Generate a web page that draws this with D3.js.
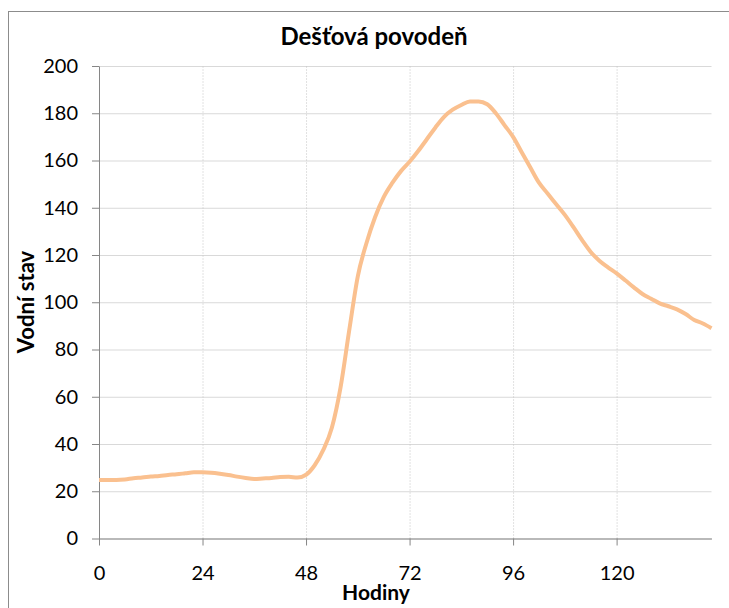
<!DOCTYPE html>
<html>
<head>
<meta charset="utf-8">
<script src="https://cdn.jsdelivr.net/npm/d3@7"></script>
<style>
body { margin:0; background:#fff; }
svg { display:block; font-family: Lato, "Open Sans", sans-serif; }
.grid line { stroke:#d9d9d9; }
.grid path { stroke:none; }
.vgrid line { stroke:#c4c4c4; stroke-dasharray:1,2; }
.vgrid path { stroke:none; }
.axis path, .axis line { stroke:#868686; }
.axis text { font-size:20px; fill:#000; font-family: Lato, sans-serif; }
</style>
</head>
<body>
<svg id="chart" width="729" height="608"></svg>
<script>
// hodiny (every 2 h) and water level
var hours = [0,2,4,6,8,10,12,14,16,18,20,22,24,26,28,30,32,34,36,38,40,42,44,46,48,
  50,52,54,56,58,60,62,64,66,68,70,72,74,76,78,80,82,84,86,88,90,92,94,96,98,
  100,102,104,106,108,110,112,114,116,118,120,122,124,126,128,130,132,134,136,138,140,142]
var level = [24.8,24.8,24.8,25,25.5,25.8,26.2,26.5,26.9,27.2,27.6,28,28,27.8,27.4,26.9,26.2,25.6,25.2,25.4,25.6,26,26.1,25.8,27,
  31,37.5,47,64,88,111,125,136,144.5,150.5,155.5,159.5,164,169,174,178.5,181.5,183.5,185,185,183.8,180,175,170,163.5,
  157,150.6,146,141.5,137,131.8,126.3,121.3,117.6,114.8,112.2,109.3,106.3,103.5,101.5,99.5,98.3,97,95,92.5,91,89]
var xTicks = [0,24,48,72,96,120]
var yTicks = [0,20,40,60,80,100,120,140,160,180,200]

function buildChart()
{
var svg = d3.select("#chart")

// outer chart frame
svg.append("rect")
  .attr("x", 8.5).attr("y", 11.5)
  .attr("width", 740).attr("height", 620)
  .attr("fill", "none").attr("stroke", "#8c8c8c")

var pLeft = 99, pRight = 711.5, pTop = 66, pBottom = 538.5

var xScale = d3.scaleLinear().domain([0, 142]).range([pLeft, pRight])
var yScale = d3.scaleLinear().domain([0, 200]).range([pBottom, pTop])

// horizontal gridlines
svg.append("g")
  .attr("class", "grid")
  .attr("transform", "translate(" + pLeft + ",0)")
  .call(d3.axisLeft(yScale).tickValues(yTicks).tickSize(-(pRight - pLeft)).tickFormat(""))

// vertical gridlines (dotted)
svg.append("g")
  .attr("class", "vgrid")
  .attr("transform", "translate(0," + pBottom + ")")
  .call(d3.axisBottom(xScale).tickValues(xTicks.slice(1)).tickSize(-(pBottom - pTop)).tickFormat(""))

// x axis
svg.append("g")
  .attr("class", "axis")
  .attr("transform", "translate(0," + pBottom + ")")
  .call(d3.axisBottom(xScale).tickValues(xTicks).tickSize(7).tickSizeOuter(0).tickPadding(20))

// y axis
svg.append("g")
  .attr("class", "axis")
  .attr("transform", "translate(" + pLeft + ",0)")
  .call(d3.axisLeft(yScale).tickValues(yTicks).tickSize(7).tickSizeOuter(0).tickPadding(14))

var line = d3.line()
  .x(function(d, i) { return xScale(hours[i]) })
  .y(function(d) { return yScale(d) })
  .curve(d3.curveMonotoneX)

svg.append("path")
  .datum(level)
  .attr("fill", "none")
  .attr("stroke", "#fac08f")
  .attr("stroke-width", 4)
  .attr("stroke-linejoin", "round")
  .attr("d", line)

// titles
svg.append("text")
  .attr("x", 374).attr("y", 45)
  .attr("text-anchor", "middle")
  .style("font-size", "24px").style("font-weight", "bold")
  .text("Dešťová povodeň")

svg.append("text")
  .attr("x", 376).attr("y", 600)
  .attr("text-anchor", "middle")
  .style("font-size", "21px").style("font-weight", "bold")
  .text("Hodiny")

svg.append("text")
  .attr("transform", "translate(34,302) rotate(-90)")
  .attr("text-anchor", "middle")
  .style("font-size", "22px").style("font-weight", "bold")
  .text("Vodní stav")
}

buildChart()
</script>
</body>
</html>
